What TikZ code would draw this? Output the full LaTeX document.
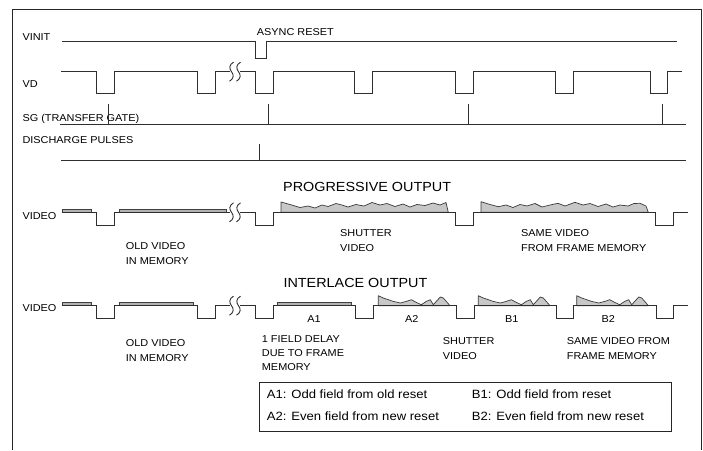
\documentclass[tikz,border=0pt]{standalone}
\usepackage{fontspec}
\setmainfont{Liberation Sans}[FakeStretch=1.09]
\tikzset{
  sig/.style={draw=black!82, line width=0.9pt, line join=miter},
  frm/.style={draw=black!85, line width=0.9pt},
  oldbar/.style={fill=black!30, draw=black!75, line width=0.7pt},
  shp/.style={fill=black!22, draw=black!78, line width=0.7pt, line join=round},
  lbl/.style={inner sep=0pt, anchor=base west, font=\fontsize{10}{12}\selectfont, text=black},
  ctr/.style={inner sep=0pt, anchor=base, font=\fontsize{10}{12}\selectfont, text=black},
  ttl/.style={inner sep=0pt, anchor=base west, font=\fontsize{13.2}{15}\selectfont, text=black},
  leg/.style={inner sep=0pt, anchor=base west, font=\fontsize{12}{14}\selectfont, text=black},
  brk/.pic={
    \draw[sig] (-1.5,-9.5) .. controls (-6,-7) and (-6,-3) .. (-3.5,0) .. controls (-1,3) and (-1,7) .. (-5.5,9.5);
    \draw[sig] (5.5,-9.5) .. controls (1,-7) and (1,-3) .. (3.5,0) .. controls (6,3) and (6,7) .. (1.5,9.5);
  },
  ishape/.pic={
    \filldraw[shp] (0,0) -- (0,-10) -- (5,-7.7) -- (15,-4.3) -- (22,-2.7) -- (28,-4.3) -- (33,-6) -- (38,-3.3) -- (43,-1) -- (48,-4.3) -- (52,-6) -- (55,-1) -- (58,-4.3) -- (62,-8.7) -- (65,-7.7) -- (68,-4.3) -- (71.7,0) -- cycle;
  }
}
\begin{document}
\begin{tikzpicture}[x=1pt,y=-1pt]
\useasboundingbox (0,0) rectangle (703,450);
% frame
\draw[frm] (12.5,450) -- (12.5,9.3) -- (701.5,9.3) -- (701.5,450);

% VINIT
\node[lbl] (vinit) at (22.3,40.7) {VINIT};
\node[lbl] (async) at (256.7,35.7) {ASYNC RESET};
\draw[sig] (62,41.7) -- (255,41.7) -- (255,58) -- (266.7,58) -- (266.7,41.7) -- (677,41.7);

% VD
\node[lbl] (vd) at (22.3,87.3) {VD};
\draw[sig] (61,71.7) -- (96.7,71.7) -- (96.7,93.3) -- (114.3,93.3) -- (114.3,71.7) -- (197.3,71.7) -- (197.3,93.3) -- (215,93.3) -- (215,71.7) -- (230,71.7);
\draw[sig] (240,71.7) -- (255,71.7) -- (255,93.3) -- (273.3,93.3) -- (273.3,71.7) -- (354.3,71.7) -- (354.3,93.3) -- (372.7,93.3) -- (372.7,71.7) -- (455,71.7) -- (455,93.3) -- (473.3,93.3) -- (473.3,71.7) -- (555,71.7) -- (555,93.3) -- (573.3,93.3) -- (573.3,71.7) -- (650,71.7) -- (650,93.3) -- (667.7,93.3) -- (667.7,71.7) -- (681.7,71.7);
\pic at (235,71.7) {brk};

% SG
\node[lbl] (sg) at (22.3,121.7) {SG (TRANSFER GATE)};
\draw[sig] (60,124) -- (685.7,124);
\draw[sig] (108.3,104) -- (108.3,124);
\draw[sig] (268.3,104) -- (268.3,124);
\draw[sig] (468.3,104) -- (468.3,124);
\draw[sig] (662.7,104) -- (662.7,124);

% Discharge
\node[lbl] (dis) at (22.3,143.3) {DISCHARGE PULSES};
\draw[sig] (61,160) -- (685.7,160);
\draw[sig] (259.3,144) -- (259.3,160);

% Progressive output
\node[ttl] (prog) at (283,191.7) {PROGRESSIVE OUTPUT};
\node[lbl] (pvideo) at (22.3,219) {VIDEO};
\filldraw[oldbar] (62,209) rectangle (91.7,212.3);
\filldraw[oldbar] (119,209) rectangle (226,212.3);
\filldraw[shp] (281,212.3) -- (281,202) -- (290,204.5) -- (300,207.5) -- (308,206) -- (315,208) -- (322,205) -- (328,206.5) -- (336,203.5) -- (342,205) -- (348,207) -- (356,204.5) -- (364,206) -- (372,202.5) -- (380,205) -- (387,203.5) -- (395,206.5) -- (403,204) -- (410,207) -- (417,204.5) -- (425,205.5) -- (433,203) -- (440,205) -- (446,202.5) -- (448.3,212.3) -- cycle;
\filldraw[shp] (481,212.3) -- (481,201.7) -- (490,204.5) -- (498.3,206.7) -- (506,205) -- (513,207.5) -- (520,204.5) -- (527,206) -- (535,203.5) -- (542,207) -- (550,205) -- (558,203.3) -- (565,206) -- (575,202.3) -- (583,205) -- (590,203.5) -- (598,206.5) -- (606,204) -- (613,207) -- (620,205) -- (628,206) -- (634,203.5) -- (640,203.3) -- (646,206) -- (648.3,212.3) -- cycle;
\draw[sig] (62,212.3) -- (96.7,212.3) -- (96.7,225) -- (114.3,225) -- (114.3,212.3) -- (230,212.3);
\draw[sig] (240,212.3) -- (255,212.3) -- (255,225) -- (273.3,225) -- (273.3,212.3) -- (455,212.3) -- (455,225) -- (473.3,225) -- (473.3,212.3) -- (655,212.3) -- (655,225) -- (673.3,225) -- (673.3,212.3) -- (687.7,212.3);
\pic at (235,212.3) {brk};
\node[lbl] (pold1) at (125.7,249.3) {OLD VIDEO};
\node[lbl] (pold2) at (125.7,264.3) {IN MEMORY};
\node[lbl] (pshut1) at (340,236) {SHUTTER};
\node[lbl] (pshut2) at (340,251) {VIDEO};
\node[lbl] (psame1) at (521,236) {SAME VIDEO};
\node[lbl] (psame2) at (521,251) {FROM FRAME MEMORY};

% Interlace output
\node[ttl] (inter) at (283.3,287.3) {INTERLACE OUTPUT};
\node[lbl] (ivideo) at (22.3,311.7) {VIDEO};
\filldraw[oldbar] (62,302.4) rectangle (91.7,305.7);
\filldraw[oldbar] (119,302.4) rectangle (193.3,305.7);
\filldraw[oldbar] (277.3,302.4) rectangle (351.7,305.7);
\pic at (378.3,305.7) {ishape};
\pic at (478.3,305.7) {ishape};
\pic at (576.7,305.7) {ishape};
\draw[sig] (62,305.7) -- (96.7,305.7) -- (96.7,318.3) -- (114.3,318.3) -- (114.3,305.7) -- (197.3,305.7) -- (197.3,318.3) -- (215,318.3) -- (215,305.7) -- (230,305.7);
\draw[sig] (240,305.7) -- (255,305.7) -- (255,318.3) -- (273.3,318.3) -- (273.3,305.7) -- (355,305.7) -- (355,318.3) -- (373.3,318.3) -- (373.3,305.7) -- (456,305.7) -- (456,318.3) -- (474.3,318.3) -- (474.3,305.7) -- (556,305.7) -- (556,318.3) -- (573.3,318.3) -- (573.3,305.7) -- (656,305.7) -- (656,318.3) -- (673.3,318.3) -- (673.3,305.7) -- (687.7,305.7);
\pic at (235,305.7) {brk};
\node[ctr] (a1) at (314,322.5) {A1};
\node[ctr] (a2) at (411.7,322.5) {A2};
\node[ctr] (b1) at (511.7,322.5) {B1};
\node[ctr] (b2) at (608.3,322.5) {B2};
\node[lbl] (iold1) at (125.7,346.7) {OLD VIDEO};
\node[lbl] (iold2) at (125.7,361.7) {IN MEMORY};
\node[lbl] (fd1) at (261.7,342.3) {1 FIELD DELAY};
\node[lbl] (fd2) at (261.7,356.7) {DUE TO FRAME};
\node[lbl] (fd3) at (261.7,370.7) {MEMORY};
\node[lbl] (ishut1) at (442.7,344) {SHUTTER};
\node[lbl] (ishut2) at (442.7,359) {VIDEO};
\node[lbl] (isame1) at (566.7,344) {SAME VIDEO FROM};
\node[lbl] (isame2) at (566.7,359) {FRAME MEMORY};

% Legend
\draw[frm, line width=0.8pt] (259,382.3) rectangle (671.7,431.7);
\node[leg] (la1) at (266.7,398.3) {A1: Odd field from old reset};
\node[leg] (la2) at (266.7,420.7) {A2: Even field from new reset};
\node[leg] (lb1) at (471.7,398.3) {B1: Odd field from reset};
\node[leg] (lb2) at (471.7,420.7) {B2: Even field from new reset};
\end{tikzpicture}
\end{document}
